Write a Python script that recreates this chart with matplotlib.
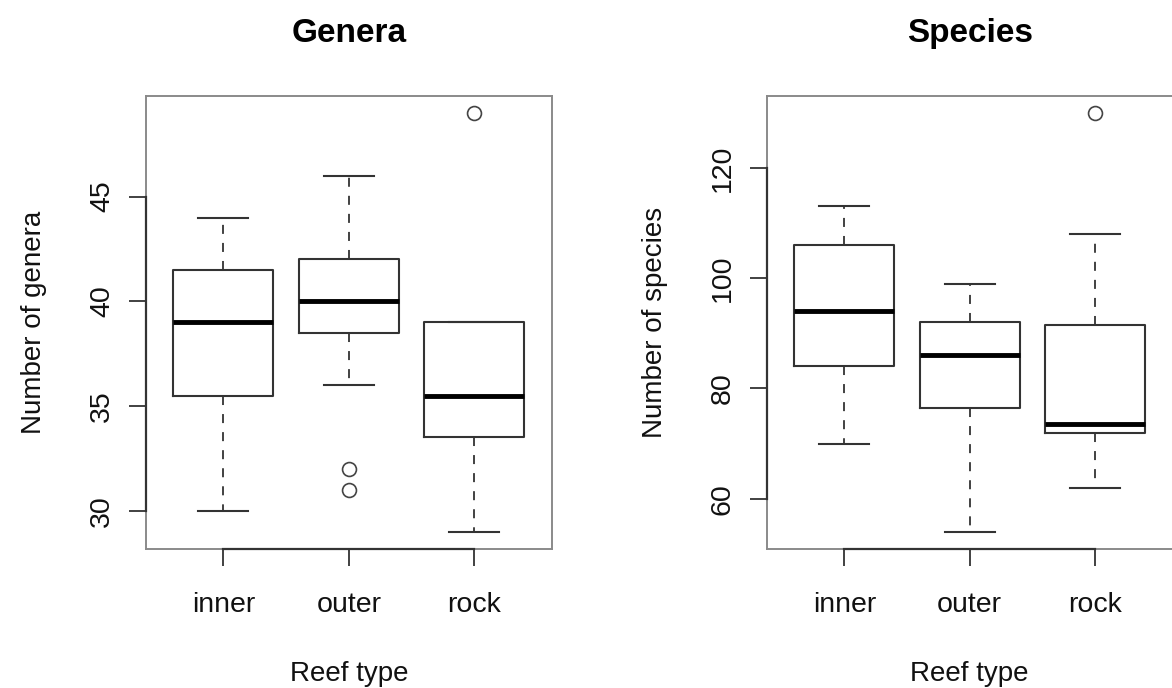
import matplotlib
matplotlib.use('Agg')
import matplotlib.pyplot as plt
from matplotlib.transforms import blended_transform_factory

plt.rcParams['font.family'] = ['Liberation Sans', 'DejaVu Sans']

reef_types = ['inner', 'outer', 'rock']

# genera: boxplot stats
genera_whislo = [30, 36, 29]
genera_q1 = [35.5, 38.5, 33.5]
genera_med = [39, 40, 35.5]
genera_q3 = [41.5, 42, 39]
genera_whishi = [44, 46, 39]
genera_fliers = [[], [32, 31], [49]]
genera_ticks = [30, 35, 40, 45]

# species
species_whislo = [70, 54, 62]
species_q1 = [84, 76.5, 72]
species_med = [94, 86, 73.5]
species_q3 = [106, 92, 91.5]
species_whishi = [113, 99, 108]
species_fliers = [[], [], [130]]
species_ticks = [60, 80, 100, 120]


def make_stats(lo, q1, med, q3, hi, fl):
    out = []
    for i in range(len(med)):
        out.append(dict(whislo=lo[i], q1=q1[i], med=med[i], q3=q3[i],
                        whishi=hi[i], fliers=fl[i]))
    return out


def r_boxplot(ax, stats, yticks, title, ylabel):
    ax.bxp(stats, positions=[1, 2, 3], widths=0.8, capwidths=0.4,
           showfliers=True, patch_artist=False,
           boxprops=dict(color='#333333', linewidth=1.5),
           whiskerprops=dict(color='#333333', linewidth=1.3, linestyle=(0, (5, 5))),
           capprops=dict(color='#333333', linewidth=1.5),
           medianprops=dict(color='black', linewidth=3.5),
           flierprops=dict(marker='o', markersize=10, markerfacecolor='none',
                           markeredgecolor='#444444', markeredgewidth=1.2))
    lo = min(min(s['whislo'] for s in stats), min([min(s['fliers']) for s in stats if len(s['fliers'])] + [1e9]))
    hi = max(max(s['whishi'] for s in stats), max([max(s['fliers']) for s in stats if len(s['fliers'])] + [-1e9]))
    pad = (hi - lo) * 0.04
    ax.set_ylim(lo - pad, hi + pad)
    ax.set_xlim(0.38, 3.62)

    for sp in ax.spines.values():
        sp.set_color('#8a8a8a')
        sp.set_linewidth(1.4)

    # R style axis lines, only between first and last tick
    tr_y = blended_transform_factory(ax.transAxes, ax.transData)
    ax.plot([0, 0], [yticks[0], yticks[-1]], color='#333333', lw=1.6,
            transform=tr_y, clip_on=False, zorder=5)
    tr_x = blended_transform_factory(ax.transData, ax.transAxes)
    ax.plot([1, 3], [0, 0], color='#333333', lw=1.6,
            transform=tr_x, clip_on=False, zorder=5)

    ax.set_yticks(yticks)
    ax.set_yticklabels([str(t) for t in yticks], rotation=90, va='center')
    ax.set_xticks([1, 2, 3])
    ax.set_xticklabels(reef_types)
    ax.tick_params(axis='both', direction='out', length=12, width=1.3,
                   color='#333333', labelsize=20.5, labelcolor='#111111')
    ax.tick_params(axis='x', pad=19)
    ax.tick_params(axis='y', pad=10)
    ax.set_xlabel('Reef type', fontsize=20, labelpad=31, color='#111111')
    ax.set_ylabel(ylabel, fontsize=20, labelpad=30, color='#111111')
    ax.set_title(title, fontsize=24, fontweight='bold', pad=39)


fig = plt.figure(figsize=(11.72, 6.88), dpi=100)
W, H = 1172.0, 688.0
ax1 = fig.add_axes([145.5 / W, (H - 548.5) / H, 406.5 / W, 452.5 / H])
ax2 = fig.add_axes([766.5 / W, (H - 548.5) / H, 406.5 / W, 452.5 / H])

r_boxplot(ax1, make_stats(genera_whislo, genera_q1, genera_med, genera_q3,
                          genera_whishi, genera_fliers),
          genera_ticks, 'Genera', 'Number of genera')
r_boxplot(ax2, make_stats(species_whislo, species_q1, species_med, species_q3,
                          species_whishi, species_fliers),
          species_ticks, 'Species', 'Number of species')

fig.savefig('out.png', dpi=100, facecolor='white')
